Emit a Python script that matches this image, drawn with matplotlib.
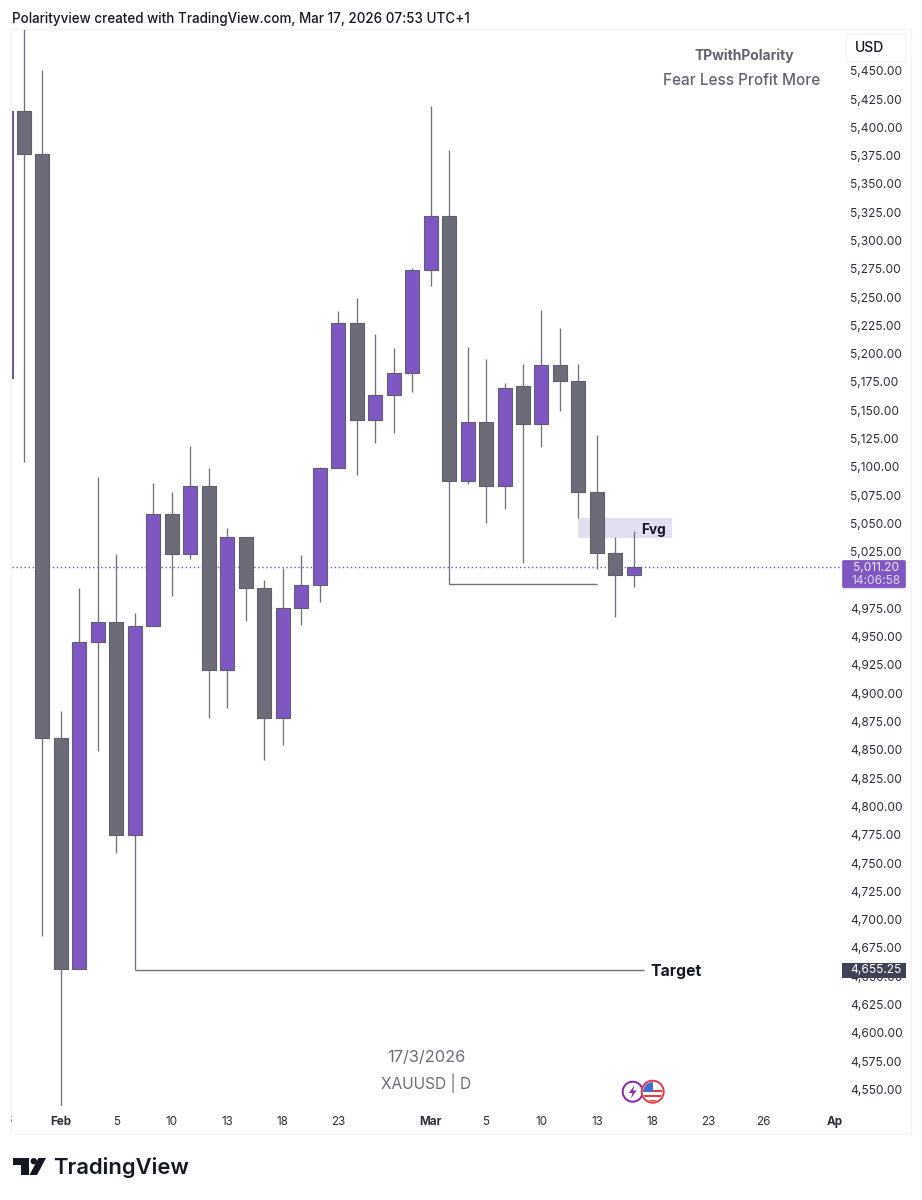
import numpy as np
import matplotlib
matplotlib.use("Agg")
import matplotlib.pyplot as plt
from matplotlib.patches import Rectangle, Circle, Polygon, FancyBboxPatch
from matplotlib.transforms import Bbox, blended_transform_factory

plt.rcParams['font.family'] = ['Inter', 'DejaVu Sans']

# ---------- data ----------
day_index = list(range(-1, 34))
opens = [5178.5, 5414.4, 5376.7, 4860.4, 4656.3, 4945.2, 4962.9, 4774.7, 4959.6, 5058.6,
         5023.2, 5083.1, 4920.5, 5038.0, 4992.7, 4878.3, 4975.5, 4995.3, 5098.7, 5226.8,
         5141.4, 5163.5, 5183.2, 5273.9, 5321.6, 5087.7, 5139.6, 5083.1, 5171.4, 5138.1,
         5190.2, 5176.1, 5078.0, 5024.1, 5004.4]
closes = [5414.4, 5376.7, 4860.4, 4656.3, 4945.2, 4962.9, 4774.7, 4959.6, 5058.6, 5023.2,
          5083.1, 4920.5, 5038.0, 4992.7, 4878.3, 4975.5, 4995.3, 5098.7, 5226.8, 5141.4,
          5163.5, 5183.2, 5273.9, 5321.6, 5087.7, 5139.6, 5083.1, 5169.7, 5138.1, 5190.2,
          5176.1, 5078.0, 5024.1, 5004.4, 5011.2]
highs = [5414.4, 5500.0, 5450.9, 4884.3, 4993.0, 5091.0, 5023.0, 4970.9, 5085.7, 5078.0,
         5118.4, 5098.9, 5046.0, 5038.0, 5000.0, 5011.0, 5022.0, 5100.1, 5237.7, 5248.9,
         5217.4, 5205.3, 5275.4, 5419.1, 5379.7, 5205.9, 5195.0, 5174.3, 5191.1, 5238.3,
         5222.7, 5191.1, 5128.1, 5037.7, 5043.6]
lows = [5178.5, 5104.0, 4685.5, 4535.0, 4656.3, 4848.9, 4758.8, 4655.25, 4959.6, 4986.1,
        5018.6, 4878.0, 4887.2, 4963.8, 4841.0, 4854.0, 4960.3, 4980.8, 5098.7, 5092.8,
        5121.3, 5129.6, 5166.4, 5259.8, 4996.5, 5084.6, 5050.6, 5062.5, 5014.8, 5117.3,
        5149.1, 5054.5, 5009.5, 4967.1, 4994.1]

price_ticks = list(range(4550, 5475, 25))
time_tick_idx = [2, 5, 8, 11, 14, 17, 22, 25, 28, 31, 34, 37, 40, 44]
time_tick_lbl = ['Feb', '5', '10', '13', '18', '23', 'Mar', '5', '10', '13', '18', '23', '26', 'Apr']
bold_lbl = ['Feb', 'Mar', 'Apr']

last_price = 5011.20
target_price = 4655.25
target_span = [6, 33.55]
swing_price = 4996.5
swing_span = [23, 31]
fvg_prices = [5037.4, 5054.5]
fvg_span = [30, 35.06]

# ---------- colours ----------
PURPLE = '#7e57c2'
GREY = '#6b6c78'
EDGE = '#5f5f6c'
WICK = '#73737d'
INK = '#131722'

W, H = 922, 1200
fig = plt.figure(figsize=(W / 100, H / 100), dpi=100, facecolor='white')

# main axes: px 12..842 horizontally, 30..1106 vertically
ax = fig.add_axes([12 / W, 1 - 1106 / H, 830 / W, 1076 / H], facecolor='none')
ax.set_xlim(-0.649, 44.26)
ax.set_ylim(4535.3, 5486.0)
for s in ax.spines.values():
    s.set_visible(False)

# overlay in pixel coordinates for chart furniture
ov = fig.add_axes([0, 0, 1, 1], facecolor='none', zorder=-1)
ov.set_xlim(0, W)
ov.set_ylim(H, 0)
ov.axis('off')
ov.add_patch(Rectangle((11, 29), 900, 1105, fc='white', ec='#f4f4f4', lw=1))

top = fig.add_axes([0, 0, 1, 1], facecolor='none', zorder=5)
top.set_xlim(0, W)
top.set_ylim(H, 0)
top.axis('off')

# price axis
ax.yaxis.tick_right()
ax.set_yticks(price_ticks)
ax.set_yticklabels([f'{p:,.2f}' for p in price_ticks], fontsize=8.6, color='#2a2e39')
ax.tick_params(axis='y', length=0, pad=5.6)

# time axis
ax.set_xticks(time_tick_idx)
ax.set_xticklabels(time_tick_lbl, fontsize=8.4, color='#2a2e39')
ax.tick_params(axis='x', length=0, pad=7.3)
clip = Bbox.from_extents(11, H - 1134, 842, H - 1106)
for lbl in ax.get_xticklabels():
    lbl.set_clip_on(True)
    lbl.set_clip_box(clip)
    if lbl.get_text() in bold_lbl:
        lbl.set_fontweight('bold')
t28 = top.text(5.5, 1120, '28', ha='center', va='center', fontsize=8.4, color='#2a2e39')
t28.set_clip_on(True)
t28.set_clip_box(clip)

# fvg box
ax.add_patch(Rectangle((fvg_span[0], fvg_prices[0]), fvg_span[1] - fvg_span[0],
                       fvg_prices[1] - fvg_prices[0], fc='#e1dff0', ec='none', zorder=1))

# last price line
ax.axhline(last_price, color='#7a4fc8', lw=1.0, ls=(0, (1.0, 1.9)), zorder=1.2)

# level lines
ax.hlines(target_price, target_span[0], target_span[1], color=WICK, lw=1.0, zorder=1.5)
ax.hlines(swing_price, swing_span[0], swing_span[1], color=WICK, lw=1.0, zorder=1.5)

# candles
o, c, hi, lo, d = map(np.array, (opens, closes, highs, lows, day_index))
up = c >= o
ax.vlines(d, lo, hi, color=WICK, lw=0.95, zorder=2)
bw = 14 / 18.48
ax.bar(d[up], (c - o)[up], bottom=o[up], width=bw, color=PURPLE, edgecolor=EDGE, linewidth=0.8, zorder=3)
ax.bar(d[~up], (c - o)[~up], bottom=o[~up], width=bw, color=GREY, edgecolor=EDGE, linewidth=0.8, zorder=3)

# annotations
ax.text(33.55 + 0.35, target_price - 1.5, 'Target', fontsize=11.3, fontweight='bold', color=INK,
        va='center', ha='left', zorder=6)
ax.text(33.38, 5044.0, 'Fvg', fontsize=9.8, fontweight='bold', color=INK, va='center', ha='left', zorder=6)

# price labels (x in pixels, y in price)
tr = blended_transform_factory(top.transData, ax.transData)
py = 1.0 / 1.1318
top.add_patch(FancyBboxPatch((842.5, last_price - 20.5 * py), 63, 27.5 * py,
                             boxstyle='round,pad=0,rounding_size=1.5', mutation_aspect=1,
                             fc=PURPLE, ec=PURPLE, lw=0.5, transform=tr))
top.text(876, last_price - 0.8, f'{last_price:,.2f}', transform=tr, ha='center', va='center',
         fontsize=8.6, color='#f4effb')
top.text(876, last_price - 13.5 * py, '14:06:58', transform=tr, ha='center', va='center',
         fontsize=8.6, color='#e2d8f3')
top.add_patch(Rectangle((842, target_price - 7.5 * py), 64, 15 * py, fc='#3f4154', ec='none', transform=tr))
top.text(876, target_price, f'{target_price:,.2f}', transform=tr, ha='center', va='center',
         fontsize=8.6, color='white')

# header
top.text(12, 19, 'Polarityview created with TradingView.com, Mar 17, 2026 07:53 UTC+1',
         fontsize=9.65, fontweight='medium', color=INK, va='center', ha='left')

# currency box
top.add_patch(FancyBboxPatch((846, 34), 60, 28, boxstyle='round,pad=0,rounding_size=3',
                             fc='white', ec='#f0f0f0', lw=0.8))
top.text(855, 48, 'USD', fontsize=10, color=INK, va='center', ha='left', fontweight='medium')

# watermarks
top.text(744, 55.5, 'TPwithPolarity', fontsize=10, fontweight='bold', color='#62636f', ha='center', va='center')
top.text(742, 80.5, 'Fear Less Profit More', fontsize=11, fontweight='medium', color='#62636f', ha='center', va='center')
top.text(426, 1057.5, '17/3/2026', fontsize=11.8, color='#6b6c78', ha='center', va='center')
top.text(426, 1083, 'XAUUSD | D', fontsize=11.1, color='#6b6c78', ha='center', va='center')

# event icons
top.add_patch(Circle((632.7, 1091.7), 10, fc='white', ec='#8e24aa', lw=1.4, zorder=7))
top.add_patch(Polygon([(634.5, 1085), (629, 1093), (632.5, 1093), (631, 1098.5), (636.5, 1090.5), (633, 1090.5)],
                      closed=True, fc='#8e24aa', ec='none', zorder=8))
flag = Circle((652.7, 1091.7), 9.6, transform=top.transData)
top.add_patch(Circle((652.7, 1091.7), 11, fc='white', ec='#e53945', lw=1.4, zorder=9))
for yy in (1090, 1095, 1100):
    r = Rectangle((641, yy), 24, 2.4, fc='#e53945', ec='none', zorder=10)
    top.add_patch(r)
    r.set_clip_path(flag)
r = Rectangle((642, 1081), 11, 11, fc='#3f6fd1', ec='none', zorder=11)
top.add_patch(r)
r.set_clip_path(flag)

# logo
logo = '#131722'
top.add_patch(Polygon([(13, 1158), (29, 1158), (29, 1175), (21, 1175), (21, 1164.5), (13, 1164.5)], fc=logo, ec='none'))
top.add_patch(Circle((33.8, 1161.2), 3.2, fc=logo, ec='none'))
top.add_patch(Polygon([(38.5, 1158), (46, 1158), (37, 1175), (29.5, 1175)], fc=logo, ec='none'))
top.text(53, 1167, 'TradingView', fontsize=15.8, fontweight='semibold', color=logo, ha='left', va='center')

fig.savefig('out.png', dpi=100, facecolor='white')
